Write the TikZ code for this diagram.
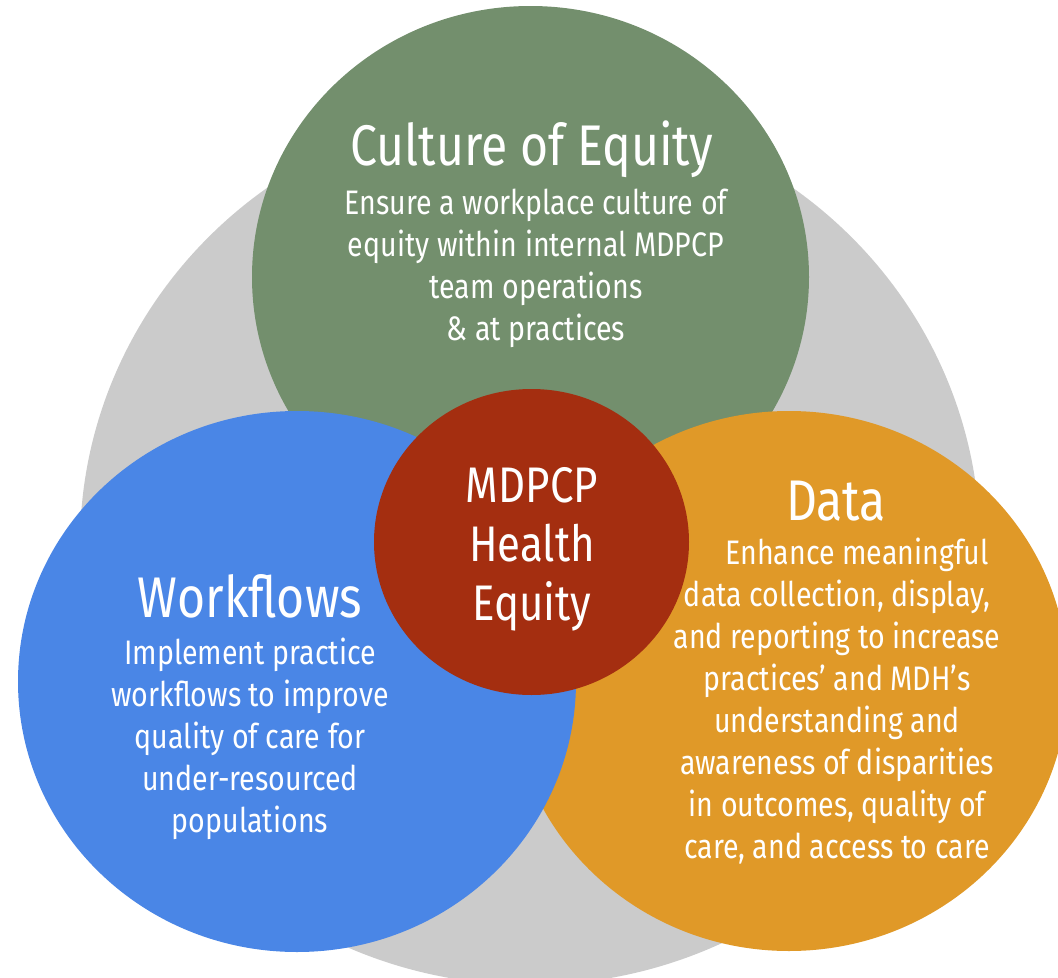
\documentclass[tikz,border=0pt]{standalone}
\usepackage{fontspec}
\setmainfont{Fira Sans}[FakeStretch=0.84]
\usetikzlibrary{shapes.geometric}
\definecolor{cgray}{HTML}{CBCBCB}
\definecolor{cgreen}{HTML}{738F6D}
\definecolor{cblue}{HTML}{4A86E6}
\definecolor{corange}{HTML}{E09928}
\definecolor{cred}{HTML}{A42E10}
\begin{document}
\begin{tikzpicture}[x=0.75pt,y=-0.75pt,
  blob/.style={ellipse, inner sep=0pt, draw=none},
  head/.style={text=white, font=\fontsize{43}{50}\selectfont, anchor=base, inner sep=0pt},
  body/.style={text=white, align=center, font=\fontsize{25.5}{31.4}\selectfont, anchor=base, inner sep=0pt},
  core/.style={text=white, align=center, font=\fontsize{37.5}{44}\selectfont, anchor=base, inner sep=0pt}]
\useasboundingbox (0,0) rectangle (1058,978);
\clip (0,0) rectangle (1058,978);
\node[blob, fill=cgray, minimum width=675pt, minimum height=660pt] (outer) at (530,545) {};
\node[blob, fill=cgreen, minimum width=417.75pt, minimum height=406.5pt] (culture) at (530.5,277) {};
\node[blob, fill=corange, minimum width=418.5pt, minimum height=405pt] (data) at (789,681) {};
\node[blob, fill=cblue, minimum width=418.5pt, minimum height=405.75pt] (workflows) at (297,681.5) {};
\node[blob, fill=cred, minimum width=236.25pt, minimum height=229.5pt] (center) at (531.5,542) {};
% texts (multi-line nodes anchored at the baseline of their last line)
\node[head] (cultureT) at (532,165) {Culture of Equity};
\node[body] (cultureB) at (536,340) {Ensure a workplace culture of\\equity within internal MDPCP\\team operations\\\& at practices};
\node[head] (workT) at (250,617) {Workflows};
\node[body] (workB) at (250,832) {Implement practice\\workflows to improve\\quality of care for\\under-resourced\\populations};
\node[head] (dataT) at (836,520) {Data};
\node[body] (dataB) at (837,858) {\hspace*{30pt}Enhance meaningful\\data collection, display,\\and reporting to increase\\practices’ and MDH’s\\understanding and\\awareness of disparities\\in outcomes, quality of\\care, and access to care};
\node[core] (centerT) at (532,620) {MDPCP\\Health\\Equity};
\end{tikzpicture}
\end{document}
